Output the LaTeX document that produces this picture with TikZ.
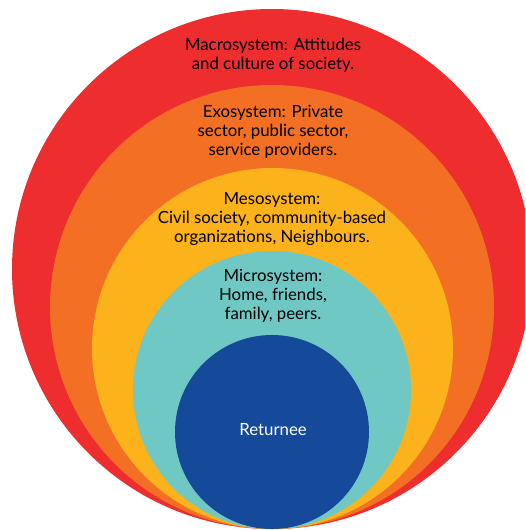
\documentclass[tikz,border=0pt]{standalone}
\usepackage{fontspec}
\setmainfont{Lato}
\definecolor{macrored}{HTML}{EE2D2F}
\definecolor{exoorange}{HTML}{F26F24}
\definecolor{mesoyellow}{HTML}{FBB21B}
\definecolor{microteal}{HTML}{6FC8C3}
\definecolor{returneeblue}{HTML}{15499A}
\tikzset{
  system/.style={align=center, font=\fontsize{16.8}{18.7}\selectfont, text=black},
  centre/.style={system, text=white}
}

\begin{document}
\begin{tikzpicture}[x=1pt,y=-1pt]
\useasboundingbox (0,0) rectangle (525,530);
\clip (0,0) rectangle (525,530);
\fill[macrored] (272,269) circle [radius=260];
\fill[exoorange] (272,307) circle [radius=222];
\fill[mesoyellow] (272.5,348.5) circle [radius=180.5];
\fill[microteal] (272,390) circle [radius=139];
\fill[returneeblue] (272,432) circle [radius=97];
\node[system] (macro) at (273,55) {Macrosystem: Attitudes\\and culture of society.};
\node[system] (exo) at (273,132) {Exosystem: Private\\sector, public sector,\\service providers.};
\node[system] (meso) at (272,219) {Mesosystem:\\Civil society, community-based\\organizations, Neighbours.};
\node[system] (micro) at (273,296) {Microsystem:\\Home, friends,\\family, peers.};
\node[centre] (ret) at (273,430) {Returnee};
\end{tikzpicture}
\end{document}
